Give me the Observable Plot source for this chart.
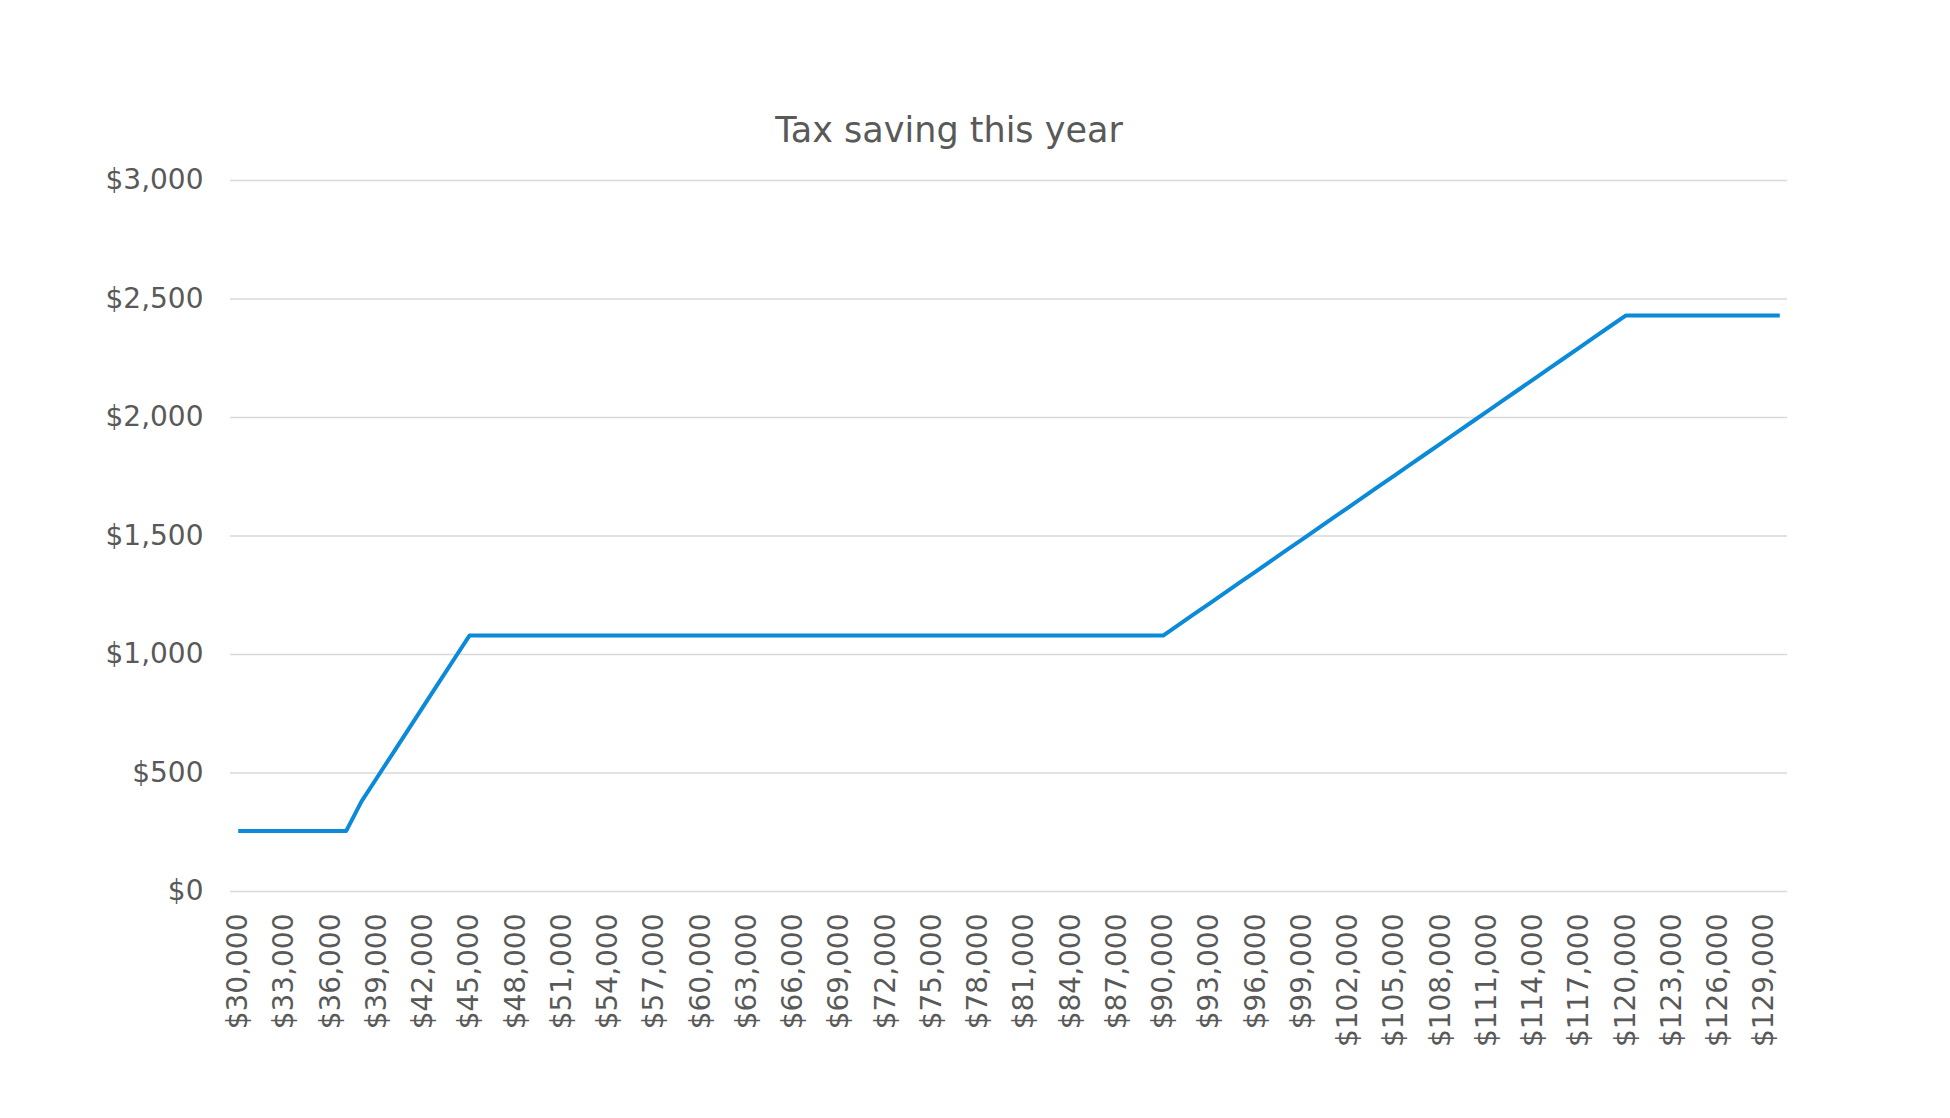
<!DOCTYPE html>
<html>
<head>
<meta charset="utf-8">
<script src="https://cdn.jsdelivr.net/npm/d3@7"></script>
<script src="https://cdn.jsdelivr.net/npm/@observablehq/plot@0.6"></script>
<style>
  html, body { margin: 0; padding: 0; background: #ffffff; }
  #wrap { width: 1950px; height: 1118px; position: relative; font-family: "DejaVu Sans", Verdana, sans-serif; }
  #title { position: relative; height: 160px; width: 1950px; }
  #title span { position: absolute; left: 0; width: 1898px; text-align: center; top: 113px; font-size: 35px; line-height: 35px; color: #595959; }
  svg { display: block; }
</style>
</head>
<body>
<div id="wrap">
  <div id="title"><span>Tax saving this year</span></div>
  <div id="chart"></div>
</div>
<script>
const incomes = [
  30000, 31000, 32000, 33000, 34000, 35000, 36000, 37000, 38000, 39000,
  40000, 41000, 42000, 43000, 44000, 45000, 46000, 47000, 48000, 49000,
  50000, 51000, 52000, 53000, 54000, 55000, 56000, 57000, 58000, 59000,
  60000, 61000, 62000, 63000, 64000, 65000, 66000, 67000, 68000, 69000,
  70000, 71000, 72000, 73000, 74000, 75000, 76000, 77000, 78000, 79000,
  80000, 81000, 82000, 83000, 84000, 85000, 86000, 87000, 88000, 89000,
  90000, 91000, 92000, 93000, 94000, 95000, 96000, 97000, 98000, 99000,
  100000, 101000, 102000, 103000, 104000, 105000, 106000, 107000, 108000, 109000,
  110000, 111000, 112000, 113000, 114000, 115000, 116000, 117000, 118000, 119000,
  120000, 121000, 122000, 123000, 124000, 125000, 126000, 127000, 128000, 129000,
  130000
];

const savings = [
  255, 255, 255, 255, 255, 255, 255, 255, 380, 480,
  580, 680, 780, 880, 980, 1080, 1080, 1080, 1080, 1080,
  1080, 1080, 1080, 1080, 1080, 1080, 1080, 1080, 1080, 1080,
  1080, 1080, 1080, 1080, 1080, 1080, 1080, 1080, 1080, 1080,
  1080, 1080, 1080, 1080, 1080, 1080, 1080, 1080, 1080, 1080,
  1080, 1080, 1080, 1080, 1080, 1080, 1080, 1080, 1080, 1080,
  1080, 1125, 1170, 1215, 1260, 1305, 1350, 1395, 1440, 1485,
  1530, 1575, 1620, 1665, 1710, 1755, 1800, 1845, 1890, 1935,
  1980, 2025, 2070, 2115, 2160, 2205, 2250, 2295, 2340, 2385,
  2430, 2430, 2430, 2430, 2430, 2430, 2430, 2430, 2430, 2430,
  2430
];

const xTickLabels = [
  30000, 33000, 36000, 39000, 42000, 45000, 48000, 51000, 54000, 57000,
  60000, 63000, 66000, 69000, 72000, 75000, 78000, 81000, 84000, 87000,
  90000, 93000, 96000, 99000, 102000, 105000, 108000, 111000, 114000, 117000,
  120000, 123000, 126000, 129000
];

const yTicks = [0, 500, 1000, 1500, 2000, 2500, 3000];

const data = incomes.map((inc, i) => ({income: inc, saving: savings[i]}));
const fmt = d3.format("$,");

const chart = Plot.plot({
  width: 1950,
  height: 958,
  marginTop: 20,
  marginBottom: 227,
  marginLeft: 230,
  marginRight: 163,
  style: {
    fontFamily: '"DejaVu Sans", Verdana, sans-serif',
    fontSize: "28px",
    color: "#595959",
    background: "#ffffff"
  },
  x: { type: "point", domain: incomes, padding: 0.5 },
  y: { domain: [0, 3000] },
  marks: [
    Plot.gridY(yTicks, { stroke: "#d9d9d9", strokeOpacity: 1, strokeWidth: 1.5 }),
    Plot.axisY(yTicks, {
      tickFormat: fmt, tickSize: 0, tickPadding: 27, fontSize: 28, fill: "#595959", label: null
    }),
    Plot.axisX(xTickLabels, {
      tickFormat: fmt, tickSize: 0, tickPadding: 22, tickRotate: -90, fontSize: 28, fill: "#595959", label: null
    }),
    Plot.line(data, {
      x: "income", y: "saving", stroke: "#0a8ad8", strokeWidth: 4, strokeLinejoin: "round", strokeLinecap: "butt"
    })
  ]
});
document.getElementById("chart").appendChild(chart);
</script>
</body>
</html>
